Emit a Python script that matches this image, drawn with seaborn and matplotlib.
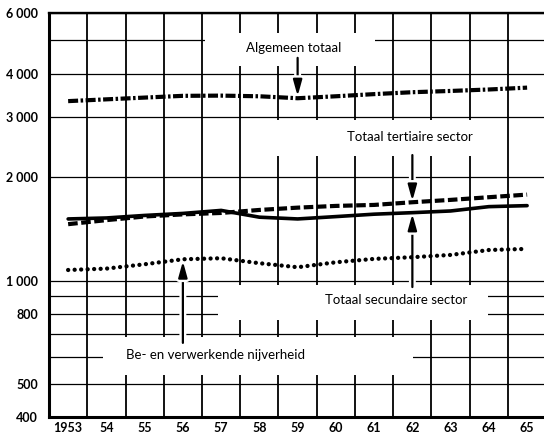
import numpy as np
import pandas as pd
import seaborn as sns
import matplotlib.pyplot as plt
import matplotlib.patheffects as pe
from matplotlib.patches import Rectangle
from matplotlib.ticker import FixedLocator, NullFormatter

# waarden (logaritmische schaal)
jaren = list(range(1953, 1966))
algemeen_totaal = [3330, 3370, 3410, 3450, 3455, 3440, 3395, 3440, 3490, 3535, 3565, 3600, 3645]
tertiaire_sector = [1460, 1500, 1537, 1559, 1574, 1606, 1631, 1650, 1661, 1691, 1718, 1749, 1780]
secundaire_sector = [1512, 1522, 1548, 1569, 1601, 1530, 1512, 1536, 1561, 1577, 1595, 1642, 1653]
verwerkende_nijverheid = [1074, 1084, 1116, 1154, 1162, 1124, 1094, 1131, 1157, 1170, 1188, 1228, 1237]

y_ticks = [400, 500, 800, 1000, 2000, 3000, 4000, 6000]
y_tick_labels = ['400', '500', '800', '1 000', '2 000', '3 000', '4 000', '6 000']
y_minor = [600, 700, 900, 5000]
x_tick_labels = ['1953', '54', '55', '56', '57', '58', '59', '60', '61', '62', '63', '64', '65']

sns.set_style('white')
plt.rcParams['font.family'] = ['Lato', 'DejaVu Sans']

df = pd.DataFrame({
    'jaar': jaren * 4,
    'waarde': algemeen_totaal + tertiaire_sector + secundaire_sector + verwerkende_nijverheid,
    'reeks': (['algemeen'] * 13 + ['tertiair'] * 13 + ['secundair'] * 13 + ['nijverheid'] * 13),
})

stijlen = {
    'algemeen': dict(lw=3.0, linestyle=(0, (2.4, 0.6, 0.6, 0.6)), dash_capstyle='butt'),
    'tertiair': dict(lw=3.0, linestyle=(0, (2.3, 0.85)), dash_capstyle='butt'),
    'secundair': dict(lw=2.6, linestyle='-'),
    'nijverheid': dict(lw=3.1, linestyle=(0, (0.01, 1.5)), dash_capstyle='round'),
}

fig = plt.figure(figsize=(5.44, 4.42), dpi=100)
ax = fig.add_axes([0.0901, 0.0557, 0.914, 0.9143])

for naam, kw in stijlen.items():
    sub = df[df['reeks'] == naam]
    sns.lineplot(data=sub, x='jaar', y='waarde', ax=ax, color='black', zorder=3, **kw)

ax.set_yscale('log')
ax.set_ylim(400, 6000)
ax.set_xlim(1952.5, 1965.5)

ax.yaxis.set_major_locator(FixedLocator(y_ticks))
ax.set_yticklabels(y_tick_labels)
ax.yaxis.set_minor_locator(FixedLocator(y_minor))
ax.yaxis.set_minor_formatter(NullFormatter())
ax.set_xticks(jaren)
ax.set_xticklabels(x_tick_labels)
ax.xaxis.set_minor_locator(FixedLocator(np.arange(1953.5, 1965, 1.0)))

ax.set_xlabel('')
ax.set_ylabel('')
ax.tick_params(axis='both', which='both', length=0)
ax.tick_params(axis='y', pad=8)
ax.tick_params(axis='x', pad=3)
for lab in ax.get_xticklabels() + ax.get_yticklabels():
    lab.set_fontsize(9)
    lab.set_fontweight('bold')
    lab.set_color('black')

ax.grid(False)
ax.yaxis.grid(True, which='both', color='black', lw=0.9)
ax.xaxis.grid(True, which='minor', color='black', lw=1.3)
ax.set_axisbelow(True)

ax.spines['right'].set_visible(False)
ax.spines['left'].set_linewidth(2.2)
ax.spines['bottom'].set_linewidth(2.2)
ax.spines['top'].set_linewidth(1.7)
for s in ax.spines.values():
    s.set_color('black')


def px(x, y):
    # pixelpositie in het origineel -> assenfractie
    return ((x - 49) / 497.2, (417.4 - y) / 404.1)


# witte vlakken achter de labels (onderbreken het raster)
for x0, y0, x1, y1 in [(205, 33, 375, 66), (262, 120, 488, 156),
                       (218, 285, 488, 320), (103, 337, 413, 375)]:
    a0 = px(x0, y1)
    a1 = px(x1, y0)
    ax.add_patch(Rectangle(a0, a1[0] - a0[0], a1[1] - a0[1], transform=ax.transAxes,
                           facecolor='white', edgecolor='none', zorder=1))

labels = [
    ('Algemeen totaal', 294, 48),
    ('Totaal tertiaire sector', 410, 137),
    ('Totaal secundaire sector', 396, 300),
    ('Be- en verwerkende nijverheid', 215, 355),
]
for tekst, x, y in labels:
    ax.text(*px(x, y), tekst, transform=ax.transAxes, ha='center', va='center',
            fontsize=9.5, color='black', zorder=4)

pijlen = [
    (1959, 4450, 3440),
    (1962, 2320, 1705),
    (1962, 958, 1565),
    (1956, 659, 1140),
]
for x, van, naar in pijlen:
    ax.annotate('', xy=(x, naar), xytext=(x, van),
                arrowprops=dict(arrowstyle='-|>,head_length=0.8,head_width=0.22',
                                mutation_scale=12, lw=1.6, color='black',
                                shrinkA=0, shrinkB=0,
                                path_effects=[pe.Stroke(linewidth=5, foreground='white'), pe.Normal()]),
                zorder=2)

fig.savefig('out.png', dpi=100)
